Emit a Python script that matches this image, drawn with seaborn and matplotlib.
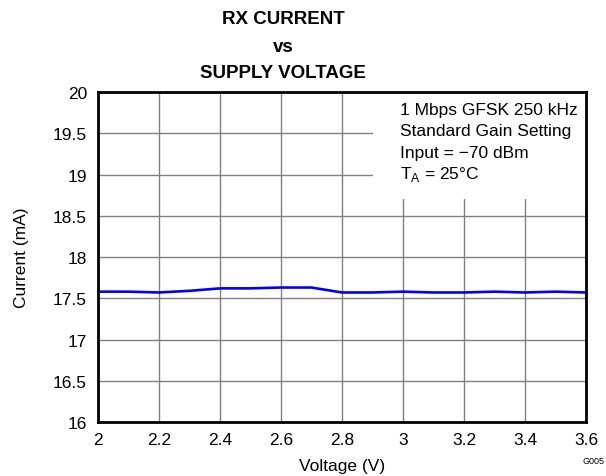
import pandas as pd
import matplotlib
matplotlib.use('Agg')
import matplotlib.pyplot as plt
import seaborn as sns
from matplotlib.patches import Rectangle

# Data
voltage = [2.0, 2.1, 2.2, 2.3, 2.4, 2.5, 2.6, 2.7, 2.8, 2.9, 3.0, 3.1, 3.2, 3.3, 3.4, 3.5, 3.6]
current = [17.58, 17.58, 17.57, 17.59, 17.62, 17.62, 17.63, 17.63, 17.57, 17.57,
           17.58, 17.57, 17.57, 17.58, 17.57, 17.58, 17.57]
x_ticks = [2, 2.2, 2.4, 2.6, 2.8, 3, 3.2, 3.4, 3.6]
y_ticks = [16, 16.5, 17, 17.5, 18, 18.5, 19, 19.5, 20]
notes = ['1 Mbps GFSK 250 kHz', 'Standard Gain Setting', 'Input = \u221270 dBm', r'T$_\mathregular{A}$ = 25°C']

sns.set_style('white')
plt.rcParams['font.family'] = ['Liberation Sans', 'DejaVu Sans']
plt.rcParams['mathtext.fontset'] = 'custom'
plt.rcParams['mathtext.rm'] = 'Liberation Sans'
plt.rcParams['text.color'] = 'black'
plt.rcParams['axes.labelcolor'] = 'black'

df = pd.DataFrame({'voltage': voltage, 'current': current})

fig = plt.figure(figsize=(6.06, 4.77), dpi=100)
ax = fig.add_axes([0.1617, 0.1132, 0.8053, 0.6918])

sns.lineplot(data=df, x='voltage', y='current', ax=ax, color='#0000ff', linewidth=1.9, zorder=3)

ax.set_xlim(2, 3.6)
ax.set_ylim(16, 20)
ax.set_xticks(x_ticks)
ax.set_xticklabels([f'{t:g}' for t in x_ticks])
ax.set_yticks(y_ticks)
ax.set_yticklabels([f'{t:g}' for t in y_ticks])
ax.tick_params(axis='both', length=0, labelsize=12.5, colors='black')
ax.tick_params(axis='y', pad=8)
ax.tick_params(axis='x', pad=7)
ax.grid(True, color='#808080', linewidth=1.0)
ax.set_axisbelow(True)
for s in ax.spines.values():
    s.set_color('black')
    s.set_linewidth(2.0)
    s.set_zorder(5)

ax.set_xlabel('Voltage (V)', fontsize=12.5, labelpad=8)
ax.set_ylabel('Current (mA)', fontsize=12.5, labelpad=17)

# white box behind the condition notes
ax.add_patch(Rectangle((0.5635, 0.676), 0.4365, 0.324, transform=ax.transAxes,
                       facecolor='white', edgecolor='none', zorder=2))
for i, line in enumerate(notes):
    ax.text(0.618, 0.948 - i * 0.065, line, transform=ax.transAxes, fontsize=12.5,
            va='center', ha='left', zorder=4)

# three-line title
fig.text(0.467, 1 - 20 / 477, 'RX CURRENT', ha='center', va='center', fontsize=13.5, fontweight='bold')
fig.text(0.467, 1 - 48 / 477, 'vs', ha='center', va='center', fontsize=13.5, fontweight='bold')
fig.text(0.467, 1 - 73 / 477, 'SUPPLY VOLTAGE', ha='center', va='center', fontsize=13.5, fontweight='bold')
fig.text(0.997, 1 - 462 / 477, 'G005', ha='right', va='center', fontsize=6.5)

fig.savefig('out.png', dpi=100)
